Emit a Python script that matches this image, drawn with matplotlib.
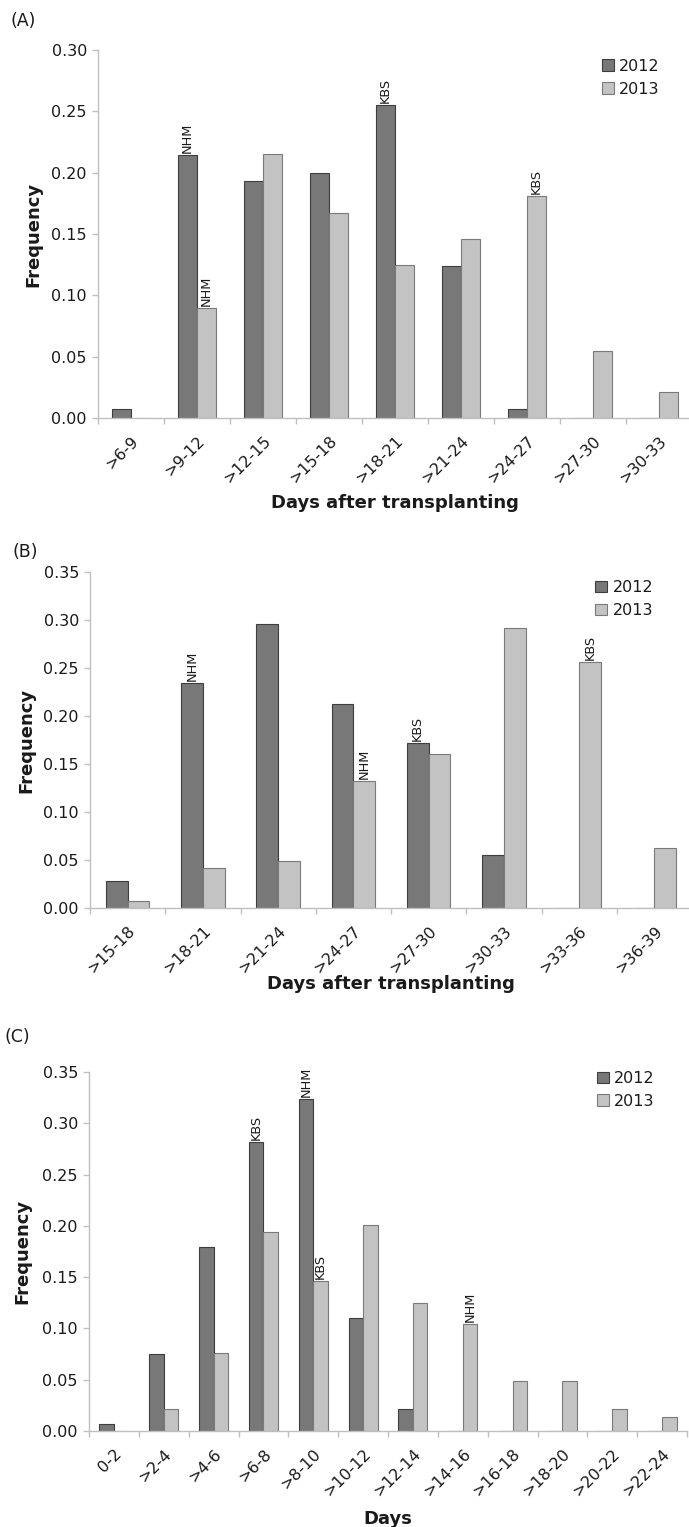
import numpy as np
from matplotlib import pyplot as plt

# Panel A - days after transplanting
cats_a = ['>6-9', '>9-12', '>12-15', '>15-18', '>18-21', '>21-24', '>24-27', '>27-30', '>30-33']
a_2012 = [0.007, 0.214, 0.193, 0.200, 0.255, 0.124, 0.007, 0.0, 0.0]
a_2013 = [0.0, 0.090, 0.215, 0.167, 0.125, 0.146, 0.181, 0.055, 0.021]
# (series, category index, text)
notes_a = [('2012', 1, 'NHM'), ('2013', 1, 'NHM'), ('2012', 4, 'KBS'), ('2013', 6, 'KBS')]

# Panel B - days after transplanting
cats_b = ['>15-18', '>18-21', '>21-24', '>24-27', '>27-30', '>30-33', '>33-36', '>36-39']
b_2012 = [0.028, 0.234, 0.296, 0.213, 0.172, 0.055, 0.0, 0.0]
b_2013 = [0.007, 0.042, 0.049, 0.132, 0.160, 0.292, 0.256, 0.062]
notes_b = [('2012', 1, 'NHM'), ('2013', 3, 'NHM'), ('2012', 4, 'KBS'), ('2013', 6, 'KBS')]

# Panel C - days
cats_c = ['0-2', '>2-4', '>4-6', '>6-8', '>8-10', '>10-12', '>12-14', '>14-16',
          '>16-18', '>18-20', '>20-22', '>22-24']
c_2012 = [0.007, 0.075, 0.179, 0.282, 0.324, 0.110, 0.021, 0.0, 0.0, 0.0, 0.0, 0.0]
c_2013 = [0.0, 0.021, 0.076, 0.194, 0.146, 0.201, 0.125, 0.104, 0.049, 0.049, 0.021, 0.014]
notes_c = [('2012', 3, 'KBS'), ('2012', 4, 'NHM'), ('2013', 4, 'KBS'), ('2013', 7, 'NHM')]

W, H = 689, 1527
DARK = '#787878'
LIGHT = '#c3c3c3'
AXIS = '#bfbfbf'
TXT = '#1a1a1a'
BW = 0.29


def px_box(left, right, bottom, top):
    return [left / W, 1 - bottom / H, (right - left) / W, (bottom - top) / H]


def panel(fig, box, cats, v12, v13, notes, ymax, xlabel, tag, tag_xy,
          ylab_x, xlab_y, leg_xy):
    ax = fig.add_axes(box)
    x = np.arange(len(cats))
    ax.bar(x - BW / 2, v12, BW, color=DARK, edgecolor='#3e3e3e', linewidth=0.8, label='2012')
    ax.bar(x + BW / 2, v13, BW, color=LIGHT, edgecolor='#7a7a7a', linewidth=0.8, label='2013')

    vals = {'2012': v12, '2013': v13}
    for ser, i, txt in notes:
        dx = -BW / 2 if ser == '2012' else BW / 2
        ax.annotate(txt, (i + dx, vals[ser][i]), xytext=(0, 1.5), textcoords='offset points',
                    rotation=90, ha='center', va='bottom', fontsize=9.3, color=TXT)

    ax.set_xlim(-0.5, len(cats) - 0.5)
    ax.set_ylim(0, ymax)
    ax.set_yticks(np.arange(0, ymax + 0.001, 0.05))
    ax.set_yticklabels(['%.2f' % t for t in np.arange(0, ymax + 0.001, 0.05)])
    ax.set_xticks(x)
    ax.set_xticklabels(cats, rotation=45, ha='right', va='top', rotation_mode='anchor')
    ax.set_xticks(np.arange(len(cats) + 1) - 0.5, minor=True)
    ax.tick_params(axis='x', which='major', length=0, pad=11, labelsize=11.5, labelcolor=TXT)
    ax.tick_params(axis='x', which='minor', length=4, color=AXIS, width=1)
    ax.tick_params(axis='y', length=4, color=AXIS, width=1, labelsize=11.5, labelcolor=TXT, pad=4)

    for s in ['top', 'right']:
        ax.spines[s].set_visible(False)
    for s in ['left', 'bottom']:
        ax.spines[s].set_color(AXIS)
        ax.spines[s].set_linewidth(1)

    ax.set_ylabel('Frequency', fontsize=13, fontweight='bold', color=TXT)
    ax.yaxis.set_label_coords(ylab_x, 0.5)
    ax.set_xlabel(xlabel, fontsize=13, fontweight='bold', color=TXT)
    ax.xaxis.set_label_coords(0.5, xlab_y)

    ax.legend(loc='upper left', bbox_to_anchor=leg_xy, frameon=False, fontsize=11.5,
              handlelength=0.75, handleheight=0.75, handletextpad=0.35, labelspacing=0.5,
              borderpad=0, borderaxespad=0, labelcolor=TXT)

    fig.text(tag_xy[0] / W, 1 - tag_xy[1] / H, tag, fontsize=12.5, color=TXT,
             ha='left', va='center')
    return ax


fig = plt.figure(figsize=(W / 100, H / 100), dpi=100)

panel(fig, px_box(98, 692, 418, 50), cats_a, a_2012, a_2013, notes_a, 0.30,
      'Days after transplanting', '(A)', (11, 21), -0.094, -0.207, (0.848, 0.976))
panel(fig, px_box(90, 692, 908, 572), cats_b, b_2012, b_2013, notes_b, 0.35,
      'Days after transplanting', '(B)', (13, 552), -0.091, -0.199, (0.839, 0.976))
panel(fig, px_box(89, 687, 1431, 1072), cats_c, c_2012, c_2013, notes_c, 0.35,
      'Days', '(C)', (4, 1037), -0.097, -0.220, (0.849, 1.003))

fig.savefig('out.png', dpi=100)
